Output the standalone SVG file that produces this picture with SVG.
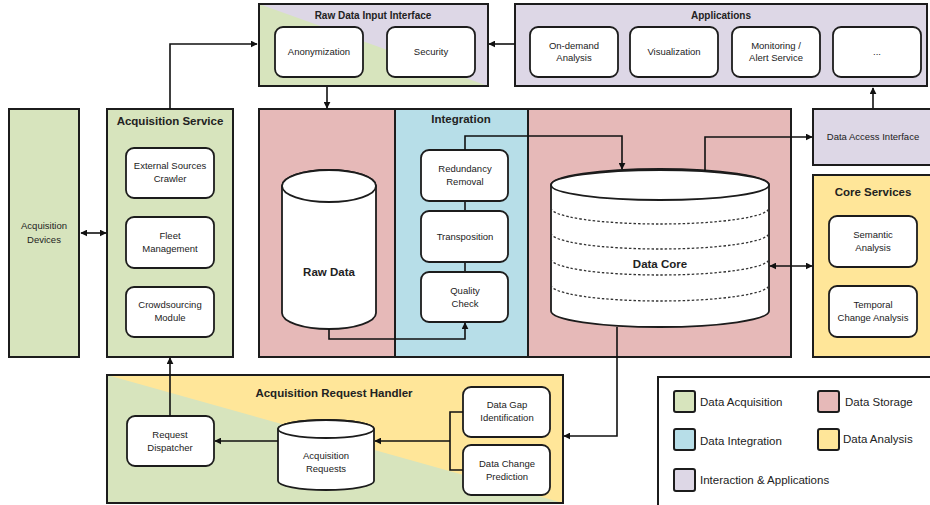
<svg xmlns="http://www.w3.org/2000/svg" width="930" height="505" viewBox="0 0 930 505">
<style>
  .box{stroke:#1c1c1c;stroke-width:2}
  .acq{fill:#d7e4bd}
  .sto{fill:#e6b9b8}
  .int{fill:#b7dee8}
  .ana{fill:#ffe699}
  .app{fill:#ddd7e6}
  .inner{fill:#fff;stroke:#1c1c1c;stroke-width:1.8}
  .cyl{fill:#fff;stroke:#1c1c1c;stroke-width:1.8}
  .line{fill:none;stroke:#111;stroke-width:1.6}
  .dash{fill:none;stroke:#333;stroke-width:1.3;stroke-dasharray:2.5 2}
  text{font-family:"Liberation Sans",Arial,sans-serif;fill:#222;text-anchor:middle}
  .t{font-size:9.5px}
  .h{font-size:10px;font-weight:bold}
  .hl{font-size:11.5px;font-weight:bold}
  .lg{font-size:11.5px;text-anchor:start}
</style>
<defs>
  <marker id="ah" viewBox="0 0 10 10" refX="9" refY="5" markerWidth="7" markerHeight="7" orient="auto-start-reverse" markerUnits="userSpaceOnUse">
    <path d="M0,0 L10,5 L0,10 Z" fill="#111"/>
  </marker>
</defs>

<rect width="930" height="505" fill="#fff"/>

<!-- Raw Data Input Interface -->
<g id="raw-input">
  <rect class="box app" x="259" y="4" width="229" height="82"/>
  <path d="M259,4 L488,86 L259,86 Z" fill="#d7e4bd"/>
  <rect x="259" y="4" width="229" height="82" fill="none" stroke="#1c1c1c" stroke-width="2"/>
  <text class="h" x="373" y="19">Raw Data Input Interface</text>
  <g id="anonymization"><rect class="inner" x="275" y="27" width="88" height="50" rx="8"/><text class="t" x="319" y="55">Anonymization</text></g>
  <g id="security"><rect class="inner" x="387" y="27" width="88" height="50" rx="8"/><text class="t" x="431" y="55">Security</text></g>
</g>

<!-- Applications -->
<g id="applications">
  <rect class="box app" x="515" y="4" width="412" height="82"/>
  <text class="h" x="721" y="19">Applications</text>
  <g id="on-demand"><rect class="inner" x="530" y="27" width="88" height="50" rx="8"/><text class="t" x="574" y="49">On-demand</text><text class="t" x="574" y="61">Analysis</text></g>
  <g id="visualization"><rect class="inner" x="630" y="27" width="88" height="50" rx="8"/><text class="t" x="674" y="55">Visualization</text></g>
  <g id="monitoring"><rect class="inner" x="732" y="27" width="88" height="50" rx="8"/><text class="t" x="776" y="49">Monitoring /</text><text class="t" x="776" y="61">Alert Service</text></g>
  <g id="more-apps"><rect class="inner" x="833" y="27" width="88" height="50" rx="8"/><text class="t" x="877" y="55">...</text></g>
</g>

<!-- Acquisition Devices -->
<g id="acq-devices">
  <rect class="box acq" x="9" y="109" width="70" height="248"/>
  <text class="t" x="44" y="229">Acquisition</text>
  <text class="t" x="44" y="243">Devices</text>
</g>

<!-- Acquisition Service -->
<g id="acq-service">
  <rect class="box acq" x="107" y="109" width="126" height="248"/>
  <text class="hl" x="170" y="125">Acquisition Service</text>
  <g id="crawler"><rect class="inner" x="126" y="148" width="88" height="50" rx="8"/><text class="t" x="170" y="169">External Sources</text><text class="t" x="170" y="182">Crawler</text></g>
  <g id="fleet"><rect class="inner" x="126" y="217" width="88" height="51" rx="8"/><text class="t" x="170" y="239">Fleet</text><text class="t" x="170" y="252">Management</text></g>
  <g id="crowdsourcing"><rect class="inner" x="126" y="287" width="88" height="50" rx="8"/><text class="t" x="170" y="308">Crowdsourcing</text><text class="t" x="170" y="321">Module</text></g>
</g>

<!-- Storage and Integration -->
<g id="storage-left">
  <rect class="box sto" x="259" y="109" width="136" height="248"/>
  <g id="raw-data">
    <path class="cyl" d="M282,186 L282,313 A47,16 0 0 0 376,313 L376,186 A47,16 0 0 0 282,186 Z"/>
    <ellipse class="cyl" cx="329" cy="186" rx="47" ry="16"/>
    <text class="hl" x="329" y="276">Raw Data</text>
  </g>
</g>

<g id="integration">
  <rect class="box int" x="395" y="109" width="133" height="248"/>
  <text class="hl" x="461" y="123">Integration</text>
  <line class="line" x1="465" y1="201" x2="465" y2="211"/>
  <line class="line" x1="465" y1="262" x2="465" y2="272"/>
  <g id="redundancy"><rect class="inner" x="421" y="150" width="87" height="51" rx="8"/><text class="t" x="465" y="172">Redundancy</text><text class="t" x="465" y="185">Removal</text></g>
  <g id="transposition"><rect class="inner" x="421" y="211" width="87" height="51" rx="8"/><text class="t" x="465" y="240">Transposition</text></g>
  <g id="quality"><rect class="inner" x="421" y="272" width="87" height="50" rx="8"/><text class="t" x="465" y="294">Quality</text><text class="t" x="465" y="307">Check</text></g>
</g>

<g id="storage-right">
  <rect class="box sto" x="528" y="109" width="263" height="248"/>
  <g id="data-core">
    <path class="cyl" d="M551,185 L551,311 A109,16 0 0 0 769,311 L769,185 A109,16 0 0 0 551,185 Z"/>
    <ellipse class="cyl" cx="660" cy="185" rx="109" ry="15"/>
    <path class="dash" d="M551,208 A109,16 0 0 0 769,208"/>
    <path class="dash" d="M551,233 A109,16 0 0 0 769,233"/>
    <path class="dash" d="M551,259 A109,16 0 0 0 769,259"/>
    <path class="dash" d="M551,285 A109,16 0 0 0 769,285"/>
    <text class="hl" x="660" y="268">Data Core</text>
  </g>
</g>

<!-- Data Access Interface -->
<g id="data-access">
  <rect class="box app" x="813" y="109" width="118" height="56"/>
  <text class="t" x="873" y="140">Data Access Interface</text>
</g>

<!-- Core Services -->
<g id="core-services">
  <rect class="box ana" x="813" y="175" width="118" height="182"/>
  <text class="hl" x="873" y="196">Core Services</text>
  <g id="semantic"><rect class="inner" x="829" y="216" width="88" height="51" rx="8"/><text class="t" x="873" y="238">Semantic</text><text class="t" x="873" y="251">Analysis</text></g>
  <g id="temporal"><rect class="inner" x="829" y="286" width="88" height="51" rx="8"/><text class="t" x="873" y="308">Temporal</text><text class="t" x="873" y="321">Change Analysis</text></g>
</g>

<!-- Acquisition Request Handler -->
<g id="request-handler">
  <rect class="acq" x="107" y="375" width="456" height="128"/>
  <path d="M107,375 L563,375 L563,503 Z" fill="#ffe699"/>
  <rect x="107" y="375" width="456" height="128" fill="none" stroke="#1c1c1c" stroke-width="2"/>
  <text class="hl" x="334" y="397">Acquisition Request Handler</text>
  <g id="dispatcher"><rect class="inner" x="127" y="416" width="87" height="50" rx="8"/><text class="t" x="170" y="438">Request</text><text class="t" x="170" y="451">Dispatcher</text></g>
  <g id="acq-requests">
    <path class="cyl" d="M278,429 L278,481 A48,9 0 0 0 374,481 L374,429 A48,9 0 0 0 278,429 Z"/>
    <ellipse class="cyl" cx="326" cy="429" rx="48" ry="9"/>
    <text class="t" x="326" y="459">Acquisition</text>
    <text class="t" x="326" y="472">Requests</text>
  </g>
  <g id="data-gap"><rect class="inner" x="463" y="387" width="87" height="50" rx="8"/><text class="t" x="507" y="408">Data Gap</text><text class="t" x="507" y="421">Identification</text></g>
  <g id="data-change"><rect class="inner" x="463" y="445" width="87" height="50" rx="8"/><text class="t" x="507" y="467">Data Change</text><text class="t" x="507" y="480">Prediction</text></g>
</g>

<!-- Legend -->
<g id="legend">
  <rect x="658" y="377" width="280" height="130" fill="#fff" stroke="#1c1c1c" stroke-width="2"/>
  <rect class="box acq" x="674" y="391" width="21" height="21" rx="2"/>
  <text class="lg" x="700" y="406">Data Acquisition</text>
  <rect class="box sto" x="818" y="391" width="21" height="21" rx="2"/>
  <text class="lg" x="845" y="406">Data Storage</text>
  <rect class="box int" x="674" y="429" width="21" height="21" rx="2"/>
  <text class="lg" x="700" y="445">Data Integration</text>
  <rect class="box ana" x="818" y="429" width="21" height="21" rx="2"/>
  <text class="lg" x="843" y="443">Data Analysis</text>
  <rect class="box app" x="674" y="469" width="21" height="22" rx="2"/>
  <text class="lg" x="700" y="484">Interaction &amp; Applications</text>
</g>

<!-- Connectors -->
<g id="connectors">
  <path class="line" d="M170,109 L170,44 L257,44" marker-end="url(#ah)"/>
  <path class="line" d="M515,44 L489,44" marker-end="url(#ah)"/>
  <path class="line" d="M327,87 L327,108" marker-end="url(#ah)"/>
  <path class="line" d="M873,108 L873,88" marker-end="url(#ah)"/>
  <path class="line" d="M81,233 L106,233" marker-start="url(#ah)" marker-end="url(#ah)"/>
  <path class="line" d="M329,329 L329,339 L465,339 L465,323" marker-end="url(#ah)"/>
  <path class="line" d="M465,150 L465,136 L622,136 L622,169" marker-end="url(#ah)"/>
  <path class="line" d="M705,171 L705,137 L812,137" marker-end="url(#ah)"/>
  <path class="line" d="M770,266 L812,266" marker-start="url(#ah)" marker-end="url(#ah)"/>
  <path class="line" d="M617,327 L617,436 L564,436" marker-end="url(#ah)"/>
  <path class="line" d="M170,416 L170,358" marker-end="url(#ah)"/>
  <path class="line" d="M278,441 L215,441" marker-end="url(#ah)"/>
  <path class="line" d="M463,412 L450,412 L450,470 L463,470"/>
  <path class="line" d="M450,441 L375,441" marker-end="url(#ah)"/>
</g>
</svg>
